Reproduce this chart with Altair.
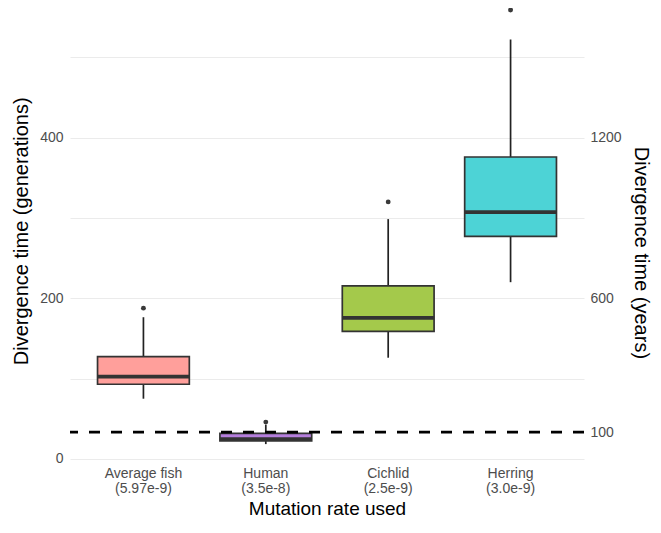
import altair as alt
import pandas as pd

# ---- data ----
categories = ["Average fish", "Human", "Cichlid", "Herring"]
rates = ["(5.97e-9)", "(3.5e-8)", "(2.5e-9)", "(3.0e-9)"]
whisker_low = [75.0, 18.5, 126.0, 220.0]
q1 = [93.0, 22.6, 158.7, 277.0]
median = [102.4, 24.8, 175.6, 307.3]
q3 = [127.3, 31.8, 215.5, 375.8]
whisker_high = [176.4, 42.7, 298.5, 522.0]
outlier_cat = ["Average fish", "Human", "Cichlid", "Herring"]
outlier_val = [187.7, 45.9, 319.9, 558.7]
fills = ["#FF9F9B", "#B57EDC", "#A4C94B", "#4DD3D6"]
threshold_years = 100
years_per_generation = 3
gen_ticks = [0, 100, 200, 300, 400, 500]
year_ticks = [100, 600, 1200]

labels = [f"{c}|{r}" for c, r in zip(categories, rates)]
box_df = pd.DataFrame({
    "label": labels, "lo": whisker_low, "q1": q1, "med": median,
    "q3": q3, "hi": whisker_high,
})
out_df = pd.DataFrame({
    "label": [labels[categories.index(c)] for c in outlier_cat],
    "val": outlier_val,
})

gen_domain = [-7.5, 561.2]
year_domain = [d * years_per_generation for d in gen_domain]

FONT = "Liberation Sans, Arial, sans-serif"
x_enc = alt.X(
    "label:N", sort=labels,
    scale=alt.Scale(paddingInner=0.25, paddingOuter=0.225),
    axis=alt.Axis(
        title="Mutation rate used", labelExpr="split(datum.label, '|')",
        labelAngle=0, labelFontSize=14, labelColor="#4D4D4D", labelLineHeight=15.5,
        labelPadding=1, ticks=False, tickSize=0, domain=False, grid=False,
        titleFontSize=19, titleFontWeight="normal", titleColor="#000000",
        titleY=49, titleBaseline="alphabetic",
    ),
)
gen_scale = alt.Scale(domain=gen_domain, nice=False, zero=False)
gen_axis = alt.Axis(
    title="Divergence time (generations)", values=gen_ticks, format="d",
    labelExpr="datum.value % 200 == 0 ? datum.label : ''",
    labelFontSize=14, labelColor="#4D4D4D", labelPadding=7,
    ticks=False, tickSize=0, domain=False,
    grid=True, gridColor="#EBEBEB", gridWidth=1.2,
    titleFontSize=20, titleFontWeight="normal", titleColor="#000000",
    titleX=-43, titleY=222.8, titleAngle=-90, titleBaseline="alphabetic",
    titleAlign="center",
)

def gy(field):
    return alt.Y(field, type="quantitative", scale=gen_scale, axis=gen_axis)

base = alt.Chart(box_df)
whisk_low = base.mark_rule(color="#222222", strokeWidth=1.7).encode(
    x=x_enc, y=gy("lo"), y2="q1")
whisk_high = base.mark_rule(color="#222222", strokeWidth=1.7).encode(
    x=x_enc, y=gy("q3"), y2="hi")
box = base.mark_bar(stroke="#333333", strokeWidth=1.7).encode(
    x=x_enc, y=gy("q1"), y2="q3",
    fill=alt.Fill("label:N", scale=alt.Scale(domain=labels, range=fills), legend=None),
)
med = base.mark_tick(orient="horizontal", size=91.8, thickness=3.8,
                     color="#333333", opacity=1).encode(x=x_enc, y=gy("med"))
outl = alt.Chart(out_df).mark_circle(size=24, color="#3A3A3A", opacity=1).encode(
    x=x_enc, y=gy("val"))

left = alt.layer(whisk_low, whisk_high, box, med, outl)

right = alt.Chart(pd.DataFrame({"t": [threshold_years]})).mark_rule(
    color="#000000", strokeWidth=2.8, strokeDash=[11, 11]
).encode(
    y=alt.Y("t:Q", scale=alt.Scale(domain=year_domain, nice=False, zero=False),
            axis=alt.Axis(
                title="Divergence time (years)", orient="right", values=year_ticks,
                format="d",
                labelFontSize=14, labelColor="#4D4D4D", labelPadding=6,
                ticks=False, tickSize=0, domain=False, grid=False,
                titleFontSize=20, titleFontWeight="normal", titleColor="#000000",
                titleX=50, titleY=244.4, titleAngle=90, titleBaseline="alphabetic",
                titleAlign="center",
            ))
)

chart = alt.layer(left, right).resolve_scale(y="independent").properties(
    width=514, height=457,
    autosize=alt.AutoSizeParams(type="none"),
    padding={"left": 62, "top": 0, "right": 69, "bottom": 55},
).configure(font=FONT, background="#FFFFFF").configure_view(stroke=None)

chart.save("out.html", embed_options={"renderer": "svg", "actions": False})
